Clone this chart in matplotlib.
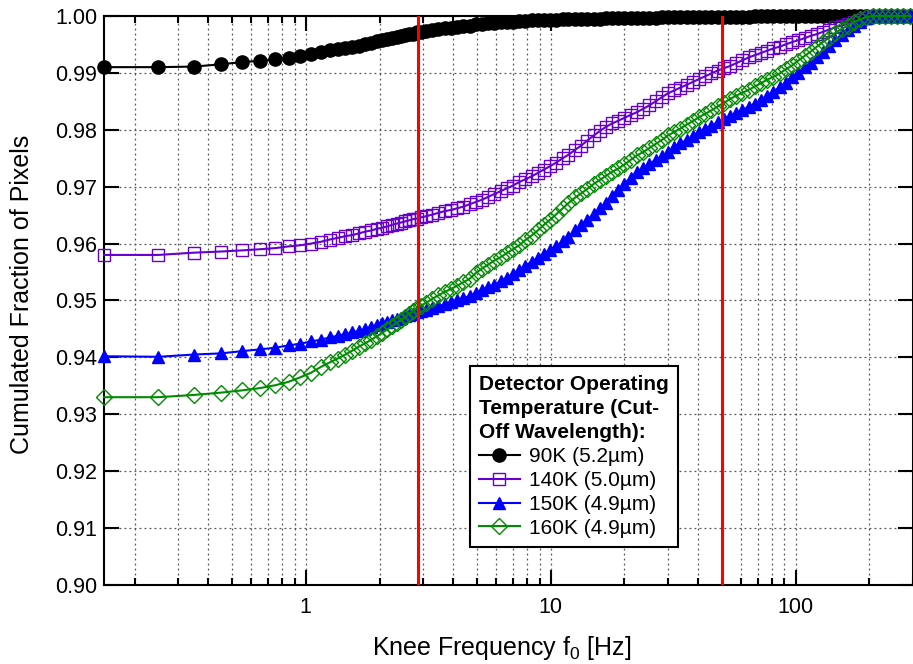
import numpy as np
import matplotlib
matplotlib.use('Agg')
import matplotlib.pyplot as plt
from matplotlib.ticker import LogLocator, FuncFormatter, MultipleLocator, NullFormatter

plt.rcParams['font.family'] = ['Liberation Sans', 'DejaVu Sans']
plt.rcParams['mathtext.fontset'] = 'custom'
plt.rcParams['mathtext.rm'] = 'Liberation Sans'
plt.rcParams['mathtext.default'] = 'regular'

# frecuencias (Hz): parte baja con paso 0.1, parte alta mas densa
freq_low = [0.15, 0.25, 0.35, 0.45, 0.55, 0.65, 0.75, 0.85, 0.95, 1.05,
            1.15, 1.25, 1.35, 1.45, 1.55, 1.65, 1.75, 1.85, 1.95, 2.05,
            2.15, 2.25, 2.35, 2.45, 2.55, 2.65, 2.75, 2.85, 2.95]
freq_high = [3.10, 3.29, 3.48, 3.69, 3.91, 4.15, 4.40, 4.66, 4.94, 5.24,
             5.55, 5.88, 6.24, 6.61, 7.01, 7.43, 7.87, 8.35, 8.85, 9.38,
             9.94, 10.5, 11.2, 11.8, 12.6, 13.3, 14.1, 15.0, 15.9, 16.8,
             17.8, 18.9, 20.0, 21.2, 22.5, 23.9, 25.3, 26.8, 28.4, 30.1,
             31.9, 33.8, 35.9, 38.0, 40.3, 42.7, 45.3, 48.0, 50.9, 53.9,
             57.2, 60.6, 64.2, 68.1, 72.2, 76.5, 81.1, 86.0, 91.1, 96.6,
             102, 109, 115, 122, 129, 137, 145, 154, 163, 173,
             183, 194, 206, 218, 231, 245, 260, 275, 292]

# 90K
k90_low = [0.9910, 0.9910, 0.9911, 0.9915, 0.9919, 0.9921, 0.9924, 0.9926, 0.9929, 0.9933,
           0.9937, 0.9940, 0.9942, 0.9944, 0.9946, 0.9947, 0.9950, 0.9953, 0.9956, 0.9958,
           0.9960, 0.9962, 0.9963, 0.9965, 0.9966, 0.9968, 0.9969, 0.9971, 0.9972]
k90_high = [0.9973, 0.9975, 0.9977, 0.9978, 0.9979, 0.9981, 0.9982, 0.9983, 0.9985, 0.9986,
            0.9987, 0.9988, 0.9989, 0.9990, 0.9990, 0.9991, 0.9991, 0.9992, 0.9992, 0.9993,
            0.9993, 0.9993, 0.9994, 0.9994, 0.9994, 0.9995, 0.9995, 0.9995, 0.9995, 0.9996,
            0.9996, 0.9996, 0.9996, 0.9997, 0.9997, 0.9997, 0.9997, 0.9997, 0.9998, 0.9998,
            0.9998, 0.9998, 0.9998, 0.9998, 0.9999, 0.9999, 0.9999, 0.9999, 0.9999, 0.9999,
            0.9999, 0.9999, 0.9999, 1.0, 1.0, 1.0, 1.0, 1.0, 1.0, 1.0,
            1.0, 1.0, 1.0, 1.0, 1.0, 1.0, 1.0, 1.0, 1.0, 1.0,
            1.0, 1.0, 1.0, 1.0, 1.0, 1.0, 1.0, 1.0, 1.0]

# 140K
k140_low = [0.9580, 0.9580, 0.9584, 0.9586, 0.9588, 0.9590, 0.9592, 0.9595, 0.9597, 0.9600,
            0.9603, 0.9607, 0.9610, 0.9613, 0.9615, 0.9618, 0.9621, 0.9623, 0.9626, 0.9628,
            0.9630, 0.9633, 0.9635, 0.9637, 0.9639, 0.9641, 0.9643, 0.9644, 0.9646]
k140_high = [0.9648, 0.9651, 0.9654, 0.9657, 0.9659, 0.9662, 0.9665, 0.9669, 0.9673, 0.9677,
             0.9682, 0.9687, 0.9692, 0.9697, 0.9702, 0.9708, 0.9713, 0.9718, 0.9724, 0.9730,
             0.9736, 0.9742, 0.9750, 0.9756, 0.9765, 0.9772, 0.9781, 0.9790, 0.9798, 0.9805,
             0.9811, 0.9816, 0.9821, 0.9826, 0.9831, 0.9837, 0.9843, 0.9850, 0.9857, 0.9864,
             0.9869, 0.9874, 0.9879, 0.9884, 0.9889, 0.9894, 0.9899, 0.9904, 0.9908, 0.9912,
             0.9917, 0.9922, 0.9927, 0.9931, 0.9935, 0.9939, 0.9943, 0.9946, 0.9950, 0.9954,
             0.9957, 0.9961, 0.9965, 0.9968, 0.9972, 0.9976, 0.9980, 0.9983, 0.9986, 0.9990,
             0.9993, 0.9997, 1.0, 1.0, 1.0, 1.0, 1.0, 1.0, 1.0]

# 150K
k150_low = [0.9402, 0.9401, 0.9405, 0.9407, 0.9411, 0.9414, 0.9417, 0.9421, 0.9424, 0.9428,
            0.9431, 0.9435, 0.9438, 0.9441, 0.9444, 0.9447, 0.9450, 0.9453, 0.9457, 0.9460,
            0.9463, 0.9466, 0.9468, 0.9470, 0.9472, 0.9475, 0.9477, 0.9479, 0.9481]
k150_high = [0.9483, 0.9487, 0.9490, 0.9493, 0.9497, 0.9500, 0.9504, 0.9508, 0.9513, 0.9518,
             0.9523, 0.9528, 0.9534, 0.9540, 0.9547, 0.9554, 0.9561, 0.9568, 0.9575, 0.9582,
             0.9589, 0.9595, 0.9604, 0.9612, 0.9623, 0.9632, 0.9642, 0.9652, 0.9662, 0.9672,
             0.9683, 0.9694, 0.9705, 0.9716, 0.9725, 0.9733, 0.9740, 0.9747, 0.9753, 0.9761,
             0.9769, 0.9776, 0.9782, 0.9789, 0.9796, 0.9802, 0.9807, 0.9813, 0.9819, 0.9824,
             0.9829, 0.9835, 0.9840, 0.9846, 0.9852, 0.9860, 0.9867, 0.9875, 0.9883, 0.9892,
             0.9900, 0.9910, 0.9918, 0.9928, 0.9937, 0.9947, 0.9958, 0.9967, 0.9975, 0.9983,
             0.9990, 0.9996, 1.0, 1.0, 1.0, 1.0, 1.0, 1.0, 1.0]

# 160K
k160_low = [0.9330, 0.9330, 0.9334, 0.9338, 0.9342, 0.9346, 0.9351, 0.9357, 0.9365, 0.9373,
            0.9383, 0.9391, 0.9398, 0.9405, 0.9412, 0.9419, 0.9425, 0.9431, 0.9437, 0.9443,
            0.9449, 0.9455, 0.9461, 0.9466, 0.9471, 0.9477, 0.9482, 0.9487, 0.9491]
k160_high = [0.9496, 0.9503, 0.9509, 0.9515, 0.9520, 0.9526, 0.9532, 0.9538, 0.9548, 0.9556,
             0.9563, 0.9570, 0.9576, 0.9583, 0.9590, 0.9597, 0.9606, 0.9614, 0.9623, 0.9633,
             0.9642, 0.9651, 0.9662, 0.9671, 0.9681, 0.9688, 0.9696, 0.9705, 0.9712, 0.9719,
             0.9726, 0.9732, 0.9739, 0.9747, 0.9755, 0.9761, 0.9768, 0.9775, 0.9782, 0.9790,
             0.9796, 0.9802, 0.9809, 0.9815, 0.9822, 0.9828, 0.9834, 0.9841, 0.9847, 0.9854,
             0.9860, 0.9865, 0.9870, 0.9876, 0.9882, 0.9888, 0.9893, 0.9899, 0.9906, 0.9913,
             0.9921, 0.9930, 0.9937, 0.9946, 0.9954, 0.9962, 0.9970, 0.9977, 0.9983, 0.9989,
             0.9994, 0.9998, 1.0, 1.0, 1.0, 1.0, 1.0, 1.0, 1.0]

labels = ['90K (5.2\u00b5m)', '140K (5.0\u00b5m)', '150K (4.9\u00b5m)', '160K (4.9\u00b5m)']
red_lines = [2.86, 50]

freq = freq_low + freq_high

fig = plt.figure(figsize=(9.13, 6.64), dpi=100)
ax = fig.add_axes([0.1139, 0.119, 0.8856, 0.857])

ax.plot(freq, k90_low + k90_high, '-o', color='black', lw=1.5, ms=9.5,
        label=labels[0], clip_on=False, zorder=3)
ax.plot(freq, k140_low + k140_high, '-s', color='#6600cc', lw=1.5, ms=8, mfc='none', mew=1.0,
        label=labels[1], clip_on=False, zorder=3)
ax.plot(freq, k150_low + k150_high, '-^', color='#0000ff', lw=1.5, ms=9,
        label=labels[2], clip_on=False, zorder=3)
ax.plot(freq, k160_low + k160_high, '-D', color='#008c00', lw=1.5, ms=8, mfc='none', mew=1.0,
        label=labels[3], clip_on=False, zorder=3)

for f in red_lines:
    ax.axvline(f, color='red', lw=2.2, zorder=4)

ax.set_xscale('log')
ax.set_xlim(0.15, 300)
ax.set_ylim(0.90, 1.00)
ax.xaxis.set_major_locator(LogLocator(base=10))
ax.xaxis.set_minor_locator(LogLocator(base=10, subs=np.arange(2, 10)))
ax.xaxis.set_major_formatter(FuncFormatter(lambda v, p: '%g' % v))
ax.xaxis.set_minor_formatter(NullFormatter())
ax.yaxis.set_major_locator(MultipleLocator(0.01))
ax.yaxis.set_major_formatter(FuncFormatter(lambda v, p: '%.2f' % v))

ax.tick_params(which='both', direction='in', top=True, right=True, width=1.5, labelsize=15.5)
ax.tick_params(which='major', length=11)
ax.tick_params(which='minor', length=5)
ax.tick_params(axis='x', pad=9)
ax.tick_params(axis='y', pad=5)

ax.grid(True, which='major', axis='both', color='#555555', ls=(0, (1.5, 2.5)), lw=0.9)
ax.grid(True, which='minor', axis='x', color='#555555', ls=(0, (1.5, 2.5)), lw=0.9)
ax.set_axisbelow(True)

for s in ax.spines.values():
    s.set_linewidth(1.5)

ax.set_xlabel('Knee Frequency f$_0$ [Hz]', fontsize=18)
ax.set_ylabel('Cumulated Fraction of Pixels', fontsize=18)
ax.xaxis.label.set_va('center')
ax.yaxis.label.set_va('center')
ax.xaxis.set_label_coords(0.492, -0.111)
ax.yaxis.set_label_coords(-0.101, 0.51)

leg = ax.legend(loc='lower left', bbox_to_anchor=(0.4524, 0.0668), bbox_transform=ax.transAxes,
                borderaxespad=0, fontsize=15, frameon=True, fancybox=False, framealpha=1,
                edgecolor='black', labelspacing=0.23, handlelength=1.95, handletextpad=0.45,
                borderpad=0.45,
                title='Detector Operating\nTemperature (Cut-\nOff Wavelength):',
                title_fontproperties={'weight': 'bold', 'size': 15}, alignment='left')
leg.get_title().set_linespacing(1.34)
leg.get_frame().set_linewidth(1.5)
leg.set_zorder(5)

fig.savefig('out.png', dpi=100)
